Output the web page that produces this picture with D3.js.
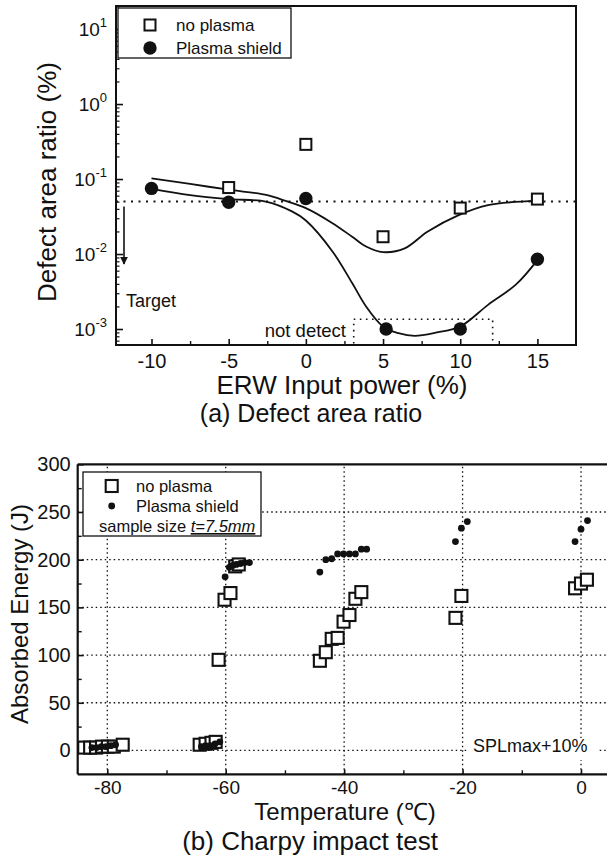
<!DOCTYPE html>
<html><head><meta charset="utf-8">
<script src="https://cdn.jsdelivr.net/npm/d3@7"></script>
<style>
body{margin:0;background:#fff;}
svg{display:block;font-family:"Liberation Sans",Arial,Helvetica,sans-serif;}
</style>
</head><body>
<svg id="c" width="607" height="859"></svg>
<script>
// ---------- (a) Defect area ratio ----------
const powerTicks = [-10, -5, 0, 5, 10, 15];
const powerMinorTicks = [-7.5, -2.5, 2.5, 7.5, 12.5];
const ratioDecades = [1e-3, 1e-2, 1e-1, 1e0, 1e1];
const ratioExponents = ["-3", "-2", "-1", "0", "1"];

const noPlasmaPower = [-5, 0, 5, 10, 15];
const noPlasmaRatio = [0.077, 0.29, 0.017, 0.041, 0.054];
const plasmaPower = [-10, -5, 0, 5.2, 10, 15];
const plasmaRatio = [0.075, 0.049, 0.055, 0.001, 0.001, 0.0085];

const fitNoPlasmaX = [-10, -7.5, -5, -2.5, -1.3, 0, 1.7, 3.0, 3.9, 5, 6.4, 7.9, 9.9, 11.8, 15];
const fitNoPlasmaY = [0.102, 0.086, 0.072, 0.061, 0.051, 0.041, 0.026, 0.017, 0.0126, 0.0106, 0.0119, 0.02, 0.033, 0.045, 0.051];
const fitPlasmaX = [-10, -7.5, -5, -2.6, -0.9, 0, 1.7, 3.0, 3.9, 5, 6.0, 7.05, 8.5, 10, 11.8, 13.6, 15];
const fitPlasmaY = [0.074, 0.061, 0.054, 0.05, 0.037, 0.028, 0.011, 0.0041, 0.002, 0.00108, 0.00088, 0.00081, 0.0009, 0.00108, 0.0021, 0.0039, 0.0083];

const targetRatio = 0.05;
const notDetectBox = {x0: 3.1, x1: 12.1, y0: 1.35e-3};

// ---------- (b) Charpy impact test ----------
const tempTicks = [-80, -60, -40, -20, 0];
const tempMinorTicks = [-70, -50, -30, -10];
const energyTicks = [0, 50, 100, 150, 200, 250, 300];
const energyMinorTicks = [25, 75, 125, 175, 225, 275];

const charpyNoPlasmaT = [-83.9, -82.9, -81.9, -80.9, -79.9, -78.9, -77.4,
  -64.4, -63.4, -62.4, -61.7,
  -61.2, -60.2, -59.2, -58.4, -57.8,
  -44.1, -43.1, -42.1, -41.1, -40.1, -39.1, -38.1, -37.1,
  -21.2, -20.2,
  -1.0, 0.0, 1.0];
const charpyNoPlasmaE = [3, 3, 3, 4, 4, 4, 6,
  6, 7, 8, 9,
  95, 158, 165, 193, 195,
  94, 103, 117, 118, 135, 142, 159, 166,
  139, 162,
  170, 175, 179];
const charpyPlasmaT = [-82.6, -81.8, -81.0, -80.2, -79.4, -78.6,
  -64.1, -63.4, -62.6, -61.8, -61.0,
  -60.1, -59.4, -58.8, -58.2, -57.5, -56.8, -56.0,
  -44.1, -43.1, -42.1, -41.1, -40.1, -39.1, -38.1, -37.1, -36.2,
  -21.2, -20.2, -19.2,
  -1.0, 0.0, 1.1];
const charpyPlasmaE = [3, 3, 4, 4, 5, 6,
  4, 5, 5, 7, 9,
  182, 192, 194, 195, 196, 197, 197,
  187, 200, 201, 206, 206, 206, 206, 211, 211,
  219, 233, 240,
  219, 232, 241];

const INK = "#111";
const fmt = d => String(d);   // plain hyphen-minus like the reference
const svg = d3.select("#c");

// ================= chart (a) =================
const xA = d3.scaleLinear().domain([-12.3, 17.5]).range([116, 576]);
const yA = d3.scaleLog().domain([6.12e-4, 20.3]).range([345, 6]);
const gA = svg.append("g");

// target dotted line
gA.append("line")
  .attr("x1", xA.range()[0]).attr("x2", xA.range()[1])
  .attr("y1", yA(targetRatio)).attr("y2", yA(targetRatio))
  .attr("stroke", INK).attr("stroke-width", 2).attr("stroke-dasharray", "2,5.5");

// not detect box
gA.append("rect")
  .attr("x", xA(notDetectBox.x0)).attr("y", yA(notDetectBox.y0))
  .attr("width", xA(notDetectBox.x1) - xA(notDetectBox.x0))
  .attr("height", yA.range()[0] - yA(notDetectBox.y0))
  .attr("fill", "none").attr("stroke", INK).attr("stroke-width", 1.6)
  .attr("stroke-dasharray", "1.6,4.5");

// fit curves
const lineA = d3.line().x(d => xA(d[0])).y(d => yA(d[1])).curve(d3.curveCatmullRom.alpha(0.5));
gA.append("path").datum(fitNoPlasmaX.map((x, i) => [x, fitNoPlasmaY[i]]))
  .attr("d", lineA).attr("fill", "none").attr("stroke", INK).attr("stroke-width", 1.8);
gA.append("path").datum(fitPlasmaX.map((x, i) => [x, fitPlasmaY[i]]))
  .attr("d", lineA).attr("fill", "none").attr("stroke", INK).attr("stroke-width", 1.8);

// frame
gA.append("rect").attr("x", 116).attr("y", 6).attr("width", 460).attr("height", 339)
  .attr("fill", "none").attr("stroke", INK).attr("stroke-width", 2);

// x ticks (inward)
const axA = gA.append("g").attr("transform", `translate(0,${yA.range()[0]})`)
  .call(d3.axisBottom(xA).tickValues(powerTicks).tickSize(-6).tickPadding(9).tickFormat(fmt));
axA.select(".domain").remove();
axA.selectAll("line").attr("stroke", INK).attr("stroke-width", 1.6);
axA.selectAll("text").attr("font-size", 20).attr("fill", INK).attr("font-family", null);
const axA2 = gA.append("g").attr("transform", `translate(0,${yA.range()[0]})`)
  .call(d3.axisBottom(xA).tickValues(powerMinorTicks).tickSize(-4).tickFormat(""));
axA2.select(".domain").remove();
axA2.selectAll("line").attr("stroke", INK).attr("stroke-width", 1.4);

// y ticks (log, inward)
const minorLog = [];
for (let e = -4; e <= 1; e++) for (let m = 2; m <= 9; m++) {
  const v = m * Math.pow(10, e);
  if (v > yA.domain()[0] && v < yA.domain()[1]) minorLog.push(v);
}
const ayA = gA.append("g").attr("transform", `translate(${xA.range()[0]},0)`)
  .call(d3.axisLeft(yA).tickValues(ratioDecades).tickSize(-7).tickFormat(""));
ayA.select(".domain").remove();
ayA.selectAll("line").attr("stroke", INK).attr("stroke-width", 1.6);
const ayA2 = gA.append("g").attr("transform", `translate(${xA.range()[0]},0)`)
  .call(d3.axisLeft(yA).tickValues(minorLog).tickSize(-3.5).tickFormat(""));
ayA2.select(".domain").remove();
ayA2.selectAll("line").attr("stroke", INK).attr("stroke-width", 1.2);

ratioDecades.forEach((v, i) => {
  const t = gA.append("text").attr("x", 107).attr("y", yA(v) + 7)
    .attr("text-anchor", "end").attr("fill", INK).attr("font-size", 19);
  t.append("tspan").text("10");
  t.append("tspan").attr("dy", -9).attr("font-size", 13).text(ratioExponents[i]);
});

// points
gA.selectAll("rect.sq").data(noPlasmaPower.map((x, i) => [x, noPlasmaRatio[i]])).enter()
  .append("rect").attr("class", "sq")
  .attr("x", d => xA(d[0]) - 5.5).attr("y", d => yA(d[1]) - 5.5)
  .attr("width", 11).attr("height", 11)
  .attr("fill", "#fff").attr("stroke", INK).attr("stroke-width", 2);
gA.selectAll("circle.pt").data(plasmaPower.map((x, i) => [x, plasmaRatio[i]])).enter()
  .append("circle").attr("class", "pt")
  .attr("cx", d => xA(d[0])).attr("cy", d => yA(d[1])).attr("r", 6.7).attr("fill", INK);

// target arrow
svg.append("defs").append("marker").attr("id", "ah")
  .attr("viewBox", "0 0 10 10").attr("refX", 9).attr("refY", 5)
  .attr("markerWidth", 8).attr("markerHeight", 8).attr("markerUnits", "userSpaceOnUse")
  .attr("orient", "auto")
  .append("path").attr("d", "M0,0 L10,5 L0,10 Z").attr("fill", INK);
gA.append("line").attr("x1", 124).attr("x2", 124)
  .attr("y1", yA(targetRatio) + 5).attr("y2", 264)
  .attr("stroke", INK).attr("stroke-width", 1.6).attr("marker-end", "url(#ah)");
gA.append("text").attr("x", 126).attr("y", 307).attr("font-size", 18).attr("fill", INK).text("Target");
gA.append("text").attr("x", 346).attr("y", 337).attr("text-anchor", "end")
  .attr("font-size", 18.5).attr("fill", INK).text("not detect");

// legend (a)
const legA = gA.append("g");
legA.append("rect").attr("x", 118).attr("y", 8).attr("width", 173).attr("height", 50)
  .attr("fill", "#fff").attr("stroke", INK).attr("stroke-width", 1.3);
legA.append("rect").attr("x", 144.5).attr("y", 19.5).attr("width", 11).attr("height", 11)
  .attr("fill", "#fff").attr("stroke", INK).attr("stroke-width", 2);
legA.append("circle").attr("cx", 150).attr("cy", 48).attr("r", 6.7).attr("fill", INK);
legA.append("text").attr("x", 176).attr("y", 31).attr("font-size", 17).attr("fill", INK).text("no plasma");
legA.append("text").attr("x", 176).attr("y", 54).attr("font-size", 17).attr("fill", INK).text("Plasma shield");

// titles (a)
svg.append("text").attr("transform", "translate(56,182) rotate(-90)")
  .attr("text-anchor", "middle").attr("font-size", 26).attr("fill", INK).text("Defect area ratio (%)");
svg.append("text").attr("x", 342).attr("y", 394).attr("text-anchor", "middle")
  .attr("font-size", 26).attr("fill", INK).text("ERW Input power (%)");
svg.append("text").attr("x", 311).attr("y", 422).attr("text-anchor", "middle")
  .attr("font-size", 25).attr("fill", INK).text("(a) Defect area ratio");

// ================= chart (b) =================
const xB = d3.scaleLinear().domain([-85, 5]).range([77.7, 610.6]);
const yB = d3.scaleLinear().domain([-25, 300]).range([774.3, 464.3]);
const gB = svg.append("g");
const W = 607;

// grid
gB.selectAll("line.gx").data(tempTicks).enter().append("line")
  .attr("x1", d => xB(d)).attr("x2", d => xB(d))
  .attr("y1", yB.range()[0]).attr("y2", yB.range()[1])
  .attr("stroke", INK).attr("stroke-width", 1.3).attr("stroke-dasharray", "1.5,3");
gB.selectAll("line.gy").data(energyTicks.filter(v => v < 300)).enter().append("line")
  .attr("x1", xB.range()[0]).attr("x2", W)
  .attr("y1", d => yB(d)).attr("y2", d => yB(d))
  .attr("stroke", INK).attr("stroke-width", 1.3).attr("stroke-dasharray", "1.5,3");

// frame
gB.append("line").attr("x1", xB.range()[0]).attr("x2", xB.range()[0])
  .attr("y1", yB.range()[1]).attr("y2", yB.range()[0]).attr("stroke", INK).attr("stroke-width", 2.2);
gB.append("line").attr("x1", xB.range()[0]).attr("x2", W)
  .attr("y1", yB.range()[0]).attr("y2", yB.range()[0]).attr("stroke", INK).attr("stroke-width", 2.2);
gB.append("line").attr("x1", xB.range()[0]).attr("x2", W)
  .attr("y1", yB.range()[1]).attr("y2", yB.range()[1]).attr("stroke", INK).attr("stroke-width", 2.2);

// x ticks
const axB = gB.append("g").attr("transform", `translate(0,${yB.range()[0]})`)
  .call(d3.axisBottom(xB).tickValues(tempTicks).tickSize(-5).tickPadding(6).tickFormat(fmt));
axB.select(".domain").remove();
axB.selectAll("line").attr("stroke", INK).attr("stroke-width", 1.6);
axB.selectAll("text").attr("font-size", 19).attr("fill", INK).attr("font-family", null);
const axB2 = gB.append("g").attr("transform", `translate(0,${yB.range()[0]})`)
  .call(d3.axisBottom(xB).tickValues(tempMinorTicks).tickSize(-4).tickFormat(""));
axB2.select(".domain").remove();
axB2.selectAll("line").attr("stroke", INK).attr("stroke-width", 1.4);

// y ticks
const ayB = gB.append("g").attr("transform", `translate(${xB.range()[0]},0)`)
  .call(d3.axisLeft(yB).tickValues(energyTicks).tickSize(-6).tickPadding(7).tickFormat(fmt));
ayB.select(".domain").remove();
ayB.selectAll("line").attr("stroke", INK).attr("stroke-width", 1.6);
ayB.selectAll("text").attr("font-size", 20).attr("fill", INK).attr("font-family", null);
const ayB2 = gB.append("g").attr("transform", `translate(${xB.range()[0]},0)`)
  .call(d3.axisLeft(yB).tickValues(energyMinorTicks).tickSize(-4).tickFormat(""));
ayB2.select(".domain").remove();
ayB2.selectAll("line").attr("stroke", INK).attr("stroke-width", 1.4);

// SPLmax label with white background
gB.append("rect").attr("x", 468).attr("y", 738).attr("width", 130).attr("height", 22).attr("fill", "#fff");
gB.append("text").attr("x", 473).attr("y", 752).attr("font-size", 18).attr("fill", INK).text("SPLmax+10%");

// points
gB.selectAll("rect.sq").data(charpyNoPlasmaT.map((t, i) => [t, charpyNoPlasmaE[i]])).enter()
  .append("rect").attr("class", "sq")
  .attr("x", d => xB(d[0]) - 6).attr("y", d => yB(d[1]) - 6)
  .attr("width", 12).attr("height", 12)
  .attr("fill", "#fff").attr("stroke", INK).attr("stroke-width", 2.1);
gB.selectAll("circle.pt").data(charpyPlasmaT.map((t, i) => [t, charpyPlasmaE[i]])).enter()
  .append("circle").attr("class", "pt")
  .attr("cx", d => xB(d[0])).attr("cy", d => yB(d[1])).attr("r", 3.4).attr("fill", INK);

// legend (b)
const legB = gB.append("g");
legB.append("rect").attr("x", 83).attr("y", 472).attr("width", 178).attr("height", 64)
  .attr("fill", "#fff").attr("stroke", INK).attr("stroke-width", 1.3);
legB.append("rect").attr("x", 105.7).attr("y", 480).attr("width", 12).attr("height", 12)
  .attr("fill", "#fff").attr("stroke", INK).attr("stroke-width", 2.1);
legB.append("circle").attr("cx", 111.7).attr("cy", 506).attr("r", 3.4).attr("fill", INK);
legB.append("text").attr("x", 136).attr("y", 492).attr("font-size", 16.5).attr("fill", INK).text("no plasma");
legB.append("text").attr("x", 136).attr("y", 512).attr("font-size", 16.5).attr("fill", INK).text("Plasma shield");
const st = legB.append("text").attr("x", 99).attr("y", 532).attr("font-size", 16.5).attr("fill", INK);
st.append("tspan").text("sample size ");
st.append("tspan").attr("font-style", "italic").style("text-decoration", "underline").text(" t=7.5mm");

// titles (b)
svg.append("text").attr("transform", "translate(28,614) rotate(-90)")
  .attr("text-anchor", "middle").attr("font-size", 24).attr("fill", INK).text("Absorbed Energy (J)");
svg.append("text").attr("x", 345).attr("y", 820).attr("text-anchor", "middle")
  .attr("font-size", 24).attr("fill", INK).text("Temperature (℃)");
svg.append("text").attr("x", 310).attr("y", 850).attr("text-anchor", "middle")
  .attr("font-size", 26).attr("fill", INK).text("(b) Charpy impact test");
</script>
</body></html>
